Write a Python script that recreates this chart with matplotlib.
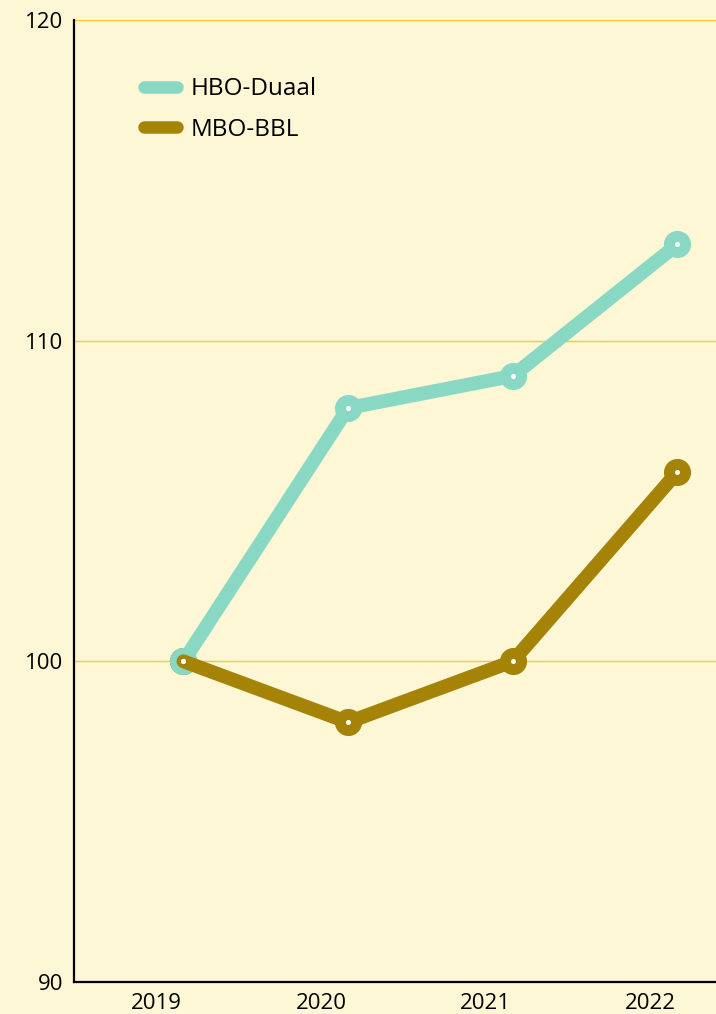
import matplotlib.pyplot as plt
from matplotlib.lines import Line2D

plt.rcParams['font.family'] = ['Open Sans', 'DejaVu Sans']

years = ['2019', '2020', '2021', '2022']
hbo_duaal = [100, 107.9, 108.9, 113.0]
mbo_bbl = [100, 98.1, 100, 105.9]
yticks = [90, 100, 110, 120]

bg = '#fdf7d5'
c_hbo = '#88d8c4'
c_mbo = '#a58307'
c_grid = '#f7c63a'

fig = plt.figure(figsize=(7.16, 10.14), dpi=100, facecolor=bg)
ax = fig.add_axes([74 / 716, 1 - 982 / 1014, 642 / 716, 962 / 1014])
ax.set_facecolor(bg)

# points sit a little right of the tick label centres
shift = 0.165
xs = [i + shift for i in range(len(years))]

# layering: mbo markers, hbo markers, hbo line, mbo line, white dots
ax.plot(xs, mbo_bbl, 'o', color=c_mbo, ms=18.5, zorder=2.5)
ax.plot(xs, hbo_duaal, 'o', color=c_hbo, ms=18.5, zorder=2.6)
ax.plot(xs, hbo_duaal, color=c_hbo, lw=10, solid_capstyle='round',
        solid_joinstyle='round', zorder=2.7)
ax.plot(xs, mbo_bbl, color=c_mbo, lw=10, solid_capstyle='round',
        solid_joinstyle='round', zorder=2.8)
for vals in [hbo_duaal, mbo_bbl]:
    ax.plot(xs, vals, 'o', color='white', ms=2.6, zorder=4)

ax.set_xlim(-0.5, 3.4)
ax.set_ylim(90, 120)
ax.set_xticks(range(len(years)))
ax.set_xticklabels(years)
ax.set_yticks(yticks)
ax.tick_params(length=0, labelsize=16, colors='black')
ax.tick_params(axis='y', pad=8)
ax.tick_params(axis='x', pad=8)
ax.grid(axis='y', color=c_grid, lw=1)
ax.set_axisbelow(True)

for s in ['top', 'right']:
    ax.spines[s].set_visible(False)
for s in ['left', 'bottom']:
    ax.spines[s].set_linewidth(1.6)
    ax.spines[s].set_color('black')

handles = [Line2D([], [], color=c_hbo, lw=9, solid_capstyle='round'),
           Line2D([], [], color=c_mbo, lw=9, solid_capstyle='round')]
ax.legend(handles, ['HBO-Duaal', 'MBO-BBL'], loc='upper left',
          bbox_to_anchor=(0.075, 0.963), frameon=False, fontsize=17.5,
          handlelength=1.35, handletextpad=0.55, labelspacing=0.68)

fig.savefig('out.png', dpi=100, facecolor=bg)
